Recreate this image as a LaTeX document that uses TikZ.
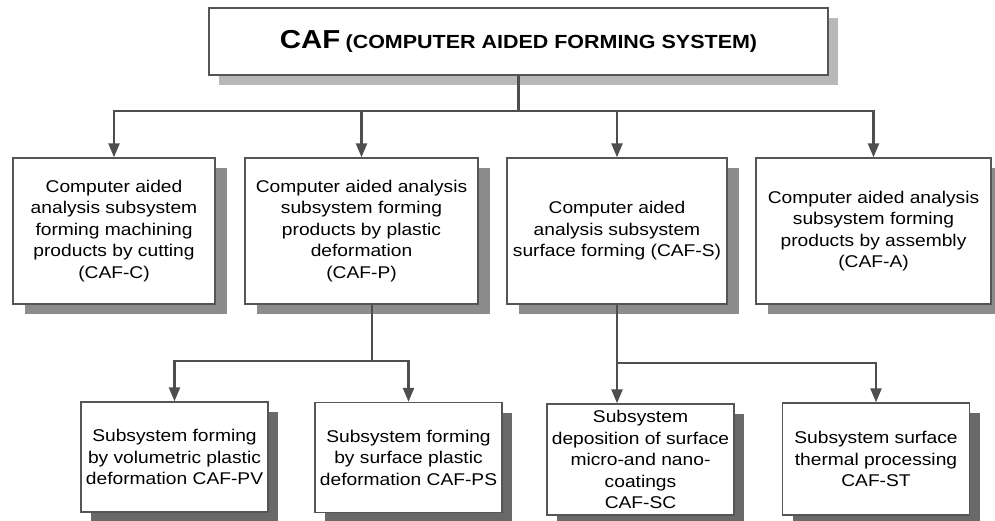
\documentclass[tikz,border=0pt]{standalone}
\usepackage{fontspec}
\setmainfont{Liberation Sans}[FakeStretch=1.13]
\usepackage{tikz}
\usetikzlibrary{arrows.meta,shadows}
\definecolor{linecolor}{RGB}{78,78,78}
\definecolor{boxcolor}{RGB}{85,85,85}
\definecolor{topshade}{RGB}{184,184,184}
\definecolor{midshade}{RGB}{140,140,140}
\definecolor{lowshade}{RGB}{105,105,105}

\begin{document}
\begin{tikzpicture}[x=1pt,y=-1pt,
  unit/.style={draw=boxcolor,line width=1.4pt,fill=white,align=center,inner sep=0pt,
               font=\fontsize{17}{21.5}\selectfont},
  topunit/.style={unit,minimum width=619pt,minimum height=67pt,
                  drop shadow={shadow xshift=10pt,shadow yshift=-10pt,fill=topshade,opacity=1}},
  midunit/.style={unit,minimum height=146pt,
                  drop shadow={shadow xshift=12pt,shadow yshift=-10pt,fill=midshade,opacity=1}},
  lowunit/.style={unit,minimum width=187pt,minimum height=110pt,
                  drop shadow={shadow xshift=10pt,shadow yshift=-10pt,fill=lowshade,opacity=1}},
  link/.style={line width=2.4pt,linecolor},
  feed/.style={link,-{Triangle[length=14pt,width=11pt]}}
]
\path[use as bounding box,fill=white] (0,0) rectangle (995,520);
\node[topunit] (caf) at (518.5,41.5)
  {{\fontsize{26}{30}\selectfont\bfseries CAF} {\fontsize{19}{22}\selectfont\bfseries (COMPUTER AIDED FORMING SYSTEM)}};
\node[midunit,minimum width=202pt] (cafc) at (114,231)
  {Computer aided\\analysis subsystem\\forming machining\\products by cutting\\(CAF-C)};
\node[midunit,minimum width=233pt] (cafp) at (361.5,231)
  {Computer aided analysis\\subsystem forming\\products by plastic\\deformation\\(CAF-P)};
\node[midunit,minimum width=220pt] (cafs) at (617,231)
  {Computer aided\\analysis subsystem\\surface forming (CAF-S)};
\node[midunit,minimum width=235pt] (cafa) at (873.5,231)
  {Computer aided analysis\\subsystem forming\\products by assembly\\(CAF-A)};
\node[lowunit] (cafpv) at (174.5,457)
  {Subsystem forming\\by volumetric plastic\\deformation CAF-PV};
\node[lowunit] (cafps) at (408.5,457.5)
  {Subsystem forming\\by surface plastic\\deformation CAF-PS};
\node[lowunit,minimum height=111pt] (cafsc) at (640.5,459.5)
  {Subsystem\\deposition of surface\\micro-and nano-\\coatings\\CAF-SC};
\node[lowunit,minimum height=112pt] (cafst) at (876,459)
  {Subsystem surface\\thermal processing\\CAF-ST};
\coordinate (trunk) at (518.5,111);
\coordinate (pfork) at (372,361);
\coordinate (sfork) at (617,363);
\draw[link] (caf.south) -- (trunk);
\draw[feed] (trunk) -| (cafc.north);
\draw[feed] (trunk) -| (cafp.north);
\draw[feed] (trunk) -| (cafs.north);
\draw[feed] (trunk) -| (cafa.north);
\draw[link] (cafp.south -| pfork) -- (pfork);
\draw[feed] (pfork) -| (cafpv.north);
\draw[feed] (pfork) -| (cafps.north);
\draw[link] (cafs.south) -- (sfork);
\draw[feed] (sfork) -| ([xshift=-23.5pt]cafsc.north);
\draw[feed] (sfork) -| (cafst.north);
\end{tikzpicture}
\end{document}
